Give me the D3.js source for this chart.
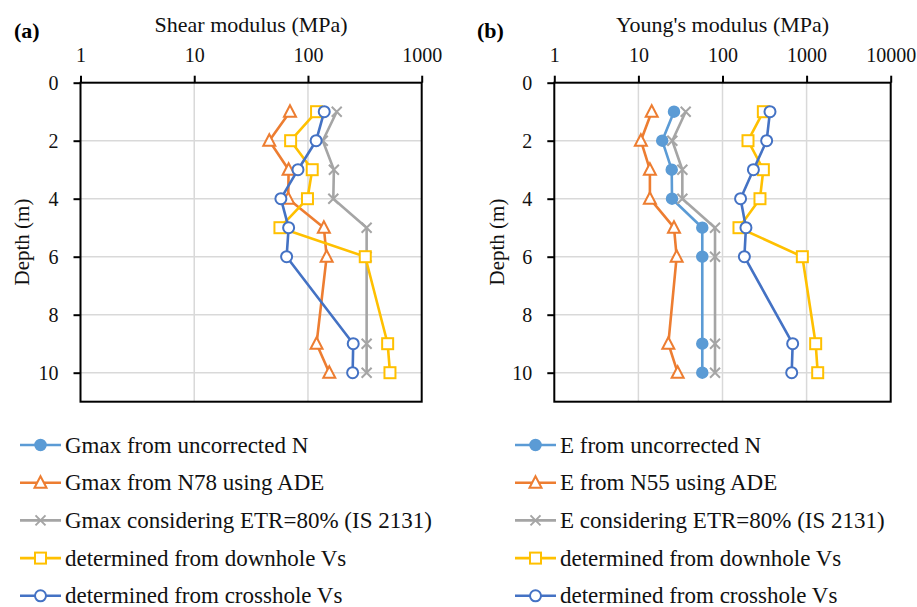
<!DOCTYPE html>
<html>
<head>
<meta charset="utf-8">
<script src="https://cdn.jsdelivr.net/npm/d3@7"></script>
<style>
  text { font-family: "Liberation Serif" !important; }
</style>
</head>
<body style="margin:0">
<script>
// depths (m)
var depths = [1, 2, 3, 4, 5, 6, 9, 10];

// (a) shear modulus, MPa
var gN78 = [69.5, 45.7, 67.6, 67, 138, 146, 119, 154];
var gEtr80 = [179, 135, 169, 167, 328, 328, 328, 328];
var gDownhole = [119, 70.4, 109, 99, 56.7, 319, 502, 526];
var gCrosshole = [139, 118, 81.7, 57.8, 67.6, 64.9, 250, 247];

// (b) Young's modulus, MPa
var eUncorr = [26.5, 19.2, 24.9, 25.1, 57.5, 57.5, 57.5, 57.5];
var eN55 = [14.4, 10.7, 13.7, 13.7, 26.5, 28.5, 22.7, 29.3];
var eEtr80 = [36.5, 25.3, 33.3, 33.3, 81.5, 81.5, 81.5, 81.5];
var eDownhole = [306, 201, 306, 279, 157, 890, 1282, 1355];
var eCrosshole = [367, 335, 233, 164, 190, 182, 683, 665];

var namesA = ['Gmax from uncorrected N', 'Gmax from N78 using ADE', 'Gmax considering ETR=80% (IS 2131)',
              'determined from downhole Vs', 'determined from crosshole Vs'];
var namesB = ['E from uncorrected N', 'E from N55 using ADE', 'E considering ETR=80% (IS 2131)',
              'determined from downhole Vs', 'determined from crosshole Vs'];
var depthTicks = [0, 2, 4, 6, 8, 10];

var colors = ['#5B9BD5', '#ED7D31', '#A5A5A5', '#FFC000', '#4472C4'];
var shapes = ['dot', 'tri', 'x', 'sq', 'circ'];

var svg = d3.select('body').append('svg')
    .attr('width', 917)
    .attr('height', 607);

function addText(g, x, y, size, str) {
    return g.append('text').attr('x', x).attr('y', y)
        .style('font-family', '"Liberation Serif"').attr('font-size', size)
        .attr('fill', '#111').text(str);
}

function marker(g, shape, color, x, y) {
    if (shape == 'dot') {
        g.append('circle').attr('cx', x).attr('cy', y).attr('r', 5.5)
            .attr('fill', color).attr('stroke', color).attr('stroke-width', 1.5);
    } else if (shape == 'circ') {
        g.append('circle').attr('cx', x).attr('cy', y).attr('r', 5.5)
            .attr('fill', '#fff').attr('stroke', color).attr('stroke-width', 2);
    } else if (shape == 'sq') {
        g.append('rect').attr('x', x - 5.5).attr('y', y - 5.5).attr('width', 11).attr('height', 11)
            .attr('fill', '#fff').attr('stroke', color).attr('stroke-width', 2);
    } else if (shape == 'tri') {
        g.append('path').attr('d', 'M' + x + ',' + (y - 6.5) + 'L' + (x + 6) + ',' + (y + 5) + 'L' + (x - 6) + ',' + (y + 5) + 'Z')
            .attr('fill', '#fff').attr('stroke', color).attr('stroke-width', 2);
    } else if (shape == 'x') {
        g.append('path').attr('d', 'M' + (x - 5) + ',' + (y - 5) + 'L' + (x + 5) + ',' + (y + 5) + 'M' + (x - 5) + ',' + (y + 5) + 'L' + (x + 5) + ',' + (y - 5))
            .attr('fill', 'none').attr('stroke', color).attr('stroke-width', 2);
    }
}

function drawPanel(p) {
    var x = d3.scaleLog().domain(p.xDomain).range([p.left, p.right]);
    var y = d3.scaleLinear().domain([0, 11]).range([82.7, 401.7]);

    var g = svg.append('g');

    // grid
    g.selectAll('.vgrid').data(p.xTicks.slice(1, -1)).enter()
        .append('line').attr('class', 'vgrid')
        .attr('x1', d => x(d)).attr('x2', d => x(d))
        .attr('y1', y(0)).attr('y2', y(11))
        .attr('stroke', '#d9d9d9').attr('stroke-width', 1.5);
    g.selectAll('.hgrid').data(depthTicks.slice(1)).enter()
        .append('line').attr('class', 'hgrid')
        .attr('x1', p.left).attr('x2', p.right)
        .attr('y1', d => y(d)).attr('y2', d => y(d))
        .attr('stroke', '#d9d9d9').attr('stroke-width', 1.5);

    // axes
    var top = d3.axisTop(x).tickValues(p.xTicks).tickSize(7).tickFormat(d3.format('d')).tickPadding(14);
    var ga = g.append('g').attr('transform', 'translate(0,' + y(0) + ')').call(top);
    var left = d3.axisLeft(y).tickValues(depthTicks).tickSize(7).tickPadding(15);
    var gl = g.append('g').attr('transform', 'translate(' + p.left + ',0)').call(left);
    [ga, gl].forEach(function(a) {
        a.attr('font-family', '"Liberation Serif"').attr('font-size', 20);
        a.select('.domain').remove();
        a.selectAll('line').attr('stroke', '#000').attr('stroke-width', 2);
        a.selectAll('text').style('font-family', '"Liberation Serif"').attr('fill', '#111');
    });

    g.append('rect').attr('x', p.left).attr('y', y(0))
        .attr('width', p.right - p.left).attr('height', y(11) - y(0))
        .attr('fill', 'none').attr('stroke', '#000').attr('stroke-width', 2);

    // series
    var line = d3.line().x(d => x(d[1])).y(d => y(d[0]));
    p.series.forEach(function(vals, i) {
        if (!vals) return;
        var pts = depths.map((d, j) => [d, vals[j]]);
        g.append('path').datum(pts).attr('d', line)
            .attr('fill', 'none').attr('stroke', colors[i]).attr('stroke-width', 2.6)
            .attr('stroke-linejoin', 'round');
        pts.forEach(function(pt) { marker(g, shapes[i], colors[i], x(pt[1]), y(pt[0])); });
    });

    // titles
    addText(svg, (p.left + p.right) / 2, 32, 22, p.title).attr('text-anchor', 'middle');
    addText(svg, p.tagX, 38, 22, p.tag).attr('font-weight', 'bold').attr('fill', '#000');
    addText(svg, 0, 0, 21, 'Depth (m)')
        .attr('transform', 'translate(' + p.depthX + ',242) rotate(-90)')
        .attr('text-anchor', 'middle').attr('dy', '0.35em');

    // legend
    var leg = svg.append('g');
    p.names.forEach(function(n, i) {
        var ly = 445 + i * 37.7;
        leg.append('line').attr('x1', p.legX).attr('x2', p.legX + 41)
            .attr('y1', ly).attr('y2', ly)
            .attr('stroke', colors[i]).attr('stroke-width', 2.6);
        marker(leg, shapes[i], colors[i], p.legX + 20.5, ly);
        addText(leg, p.legX + 45, ly, 23, n).attr('dy', '0.33em');
    });
}

drawPanel({
    xDomain: [1, 1000], xTicks: [1, 10, 100, 1000], left: 80.5, right: 421.7,
    series: [null, gN78, gEtr80, gDownhole, gCrosshole],
    names: namesA, title: 'Shear modulus (MPa)', tag: '(a)', tagX: 14, depthX: 22, legX: 20
});
drawPanel({
    xDomain: [1, 10000], xTicks: [1, 10, 100, 1000, 10000], left: 554.3, right: 890.7,
    series: [eUncorr, eN55, eEtr80, eDownhole, eCrosshole],
    names: namesB, title: "Young's modulus (MPa)", tag: '(b)', tagX: 477, depthX: 497, legX: 515
});
</script>
</body>
</html>
